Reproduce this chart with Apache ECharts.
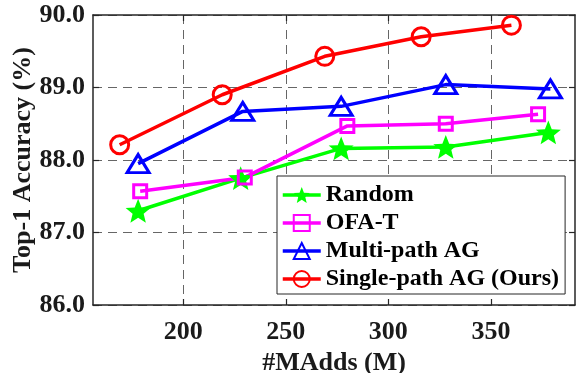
<!DOCTYPE html>
<html>
<head>
<meta charset="utf-8">
<script src="https://cdn.jsdelivr.net/npm/echarts@6/dist/echarts.min.js"></script>
<style>
  html, body { margin: 0; padding: 0; background: #fff; }
  #chart { width: 576px; height: 373px; }
</style>
</head>
<body>
<div id="chart"></div>
<script>
// data
const seriesNames = ['Random', 'OFA-T', 'Multi-path AG', 'Single-path AG (Ours)']
const randomX = [178, 228, 277, 328, 378]
const randomY = [87.30, 87.75, 88.16, 88.18, 88.38]
const ofaX = [179, 230, 280, 328, 373]
const ofaY = [87.57, 87.76, 88.47, 88.50, 88.63]
const multiX = [178, 229, 277, 328, 379]
const multiY = [87.95, 88.67, 88.74, 89.04, 88.98]
const singleX = [169, 219, 269, 316, 360]
const singleY = [88.21, 88.90, 89.43, 89.70, 89.86]
const xTicks = [200, 250, 300, 350]

const FONT = "'Liberation Serif', 'DejaVu Serif', serif"
const INK = '#1a1a1a'
const STAR = 'path://M0,-10L2.6,-3.4L9.51,-3.09L4.2,1.4L5.88,8.09L0,4.3L-5.88,8.09L-4.2,1.4L-9.51,-3.09L-2.6,-3.4Z'

const zip = (xs, ys) => xs.map((x, i) => [x, ys[i]])

// 一条折线
const makeSeries = (name, xs, ys, color, symbol, size, filled) => ({
  name: name,
  type: 'line',
  data: zip(xs, ys),
  symbol: symbol,
  symbolSize: size,
  symbolKeepAspect: true,
  lineStyle: { color: color, width: 3.5 },
  itemStyle: {
    color: filled ? color : 'rgba(255,255,255,0)',
    borderColor: color,
    borderWidth: filled ? 0 : 3
  },
  emphasis: { disabled: true },
  z: 3
})

const chart = echarts.init(document.getElementById('chart'))
const gridLine = { show: true, lineStyle: { color: '#666', type: [9, 6], width: 1 } }
const frame = { show: true, lineStyle: { color: '#262626', width: 1.5 } }
const tickIn = { show: true, inside: true, length: 6, lineStyle: { color: '#262626', width: 1.2 } }

const option = {
  animation: false,
  grid: { left: 93, right: 1, top: 15, bottom: 68, outerBoundsMode: 'none', containLabel: false },
  legend: {
    orient: 'vertical',
    left: 277,
    top: 176,
    padding: [7, 6, 3, 4],
    itemWidth: 38,
    itemHeight: 20,
    itemGap: 4,
    backgroundColor: '#fff',
    borderColor: '#262626',
    borderWidth: 1,
    data: seriesNames,
    lineStyle: { width: 3.5 },
    textStyle: { fontFamily: FONT, fontWeight: 'bold', fontSize: 24, color: '#000', lineHeight: 24 }
  },
  xAxis: [
    {
      type: 'value',
      min: 156,
      max: 391,
      name: '#MAdds (M)',
      nameLocation: 'middle',
      nameGap: 44,
      nameTextStyle: { fontFamily: FONT, fontWeight: 'bold', fontSize: 26, color: INK },
      axisLine: frame,
      axisTick: Object.assign({ customValues: xTicks }, tickIn),
      axisLabel: { customValues: xTicks, margin: 14, fontFamily: FONT, fontWeight: 'bold', fontSize: 26, color: INK },
      splitLine: gridLine
    },
    {
      type: 'value',
      position: 'top',
      min: 156,
      max: 391,
      axisLine: frame,
      axisTick: Object.assign({ customValues: xTicks }, tickIn),
      axisLabel: { show: false },
      splitLine: { show: false }
    }
  ],
  yAxis: [
    {
      type: 'value',
      min: 86,
      max: 90,
      interval: 1,
      name: 'Top-1 Accuracy (%)',
      nameLocation: 'middle',
      nameGap: 57,
      nameMoveOverlap: false,
      nameTextStyle: { fontFamily: FONT, fontWeight: 'bold', fontSize: 26, color: INK },
      axisLine: frame,
      axisTick: tickIn,
      axisLabel: { margin: 8, fontFamily: FONT, fontWeight: 'bold', fontSize: 26, color: INK, formatter: v => v.toFixed(1) },
      splitLine: gridLine
    },
    {
      type: 'value',
      position: 'right',
      min: 86,
      max: 90,
      interval: 1,
      axisLine: frame,
      axisTick: tickIn,
      axisLabel: { show: false },
      splitLine: { show: false }
    }
  ],
  series: [
    makeSeries(seriesNames[0], randomX, randomY, '#00ff00', STAR, 25, true),
    makeSeries(seriesNames[1], ofaX, ofaY, '#ff00ff', 'rect', 13, false),
    makeSeries(seriesNames[2], multiX, multiY, '#0000ff', 'triangle', [22, 18], false),
    makeSeries(seriesNames[3], singleX, singleY, '#ff0000', 'circle', 18, false)
  ]
}
chart.setOption(option)
</script>
</body>
</html>
